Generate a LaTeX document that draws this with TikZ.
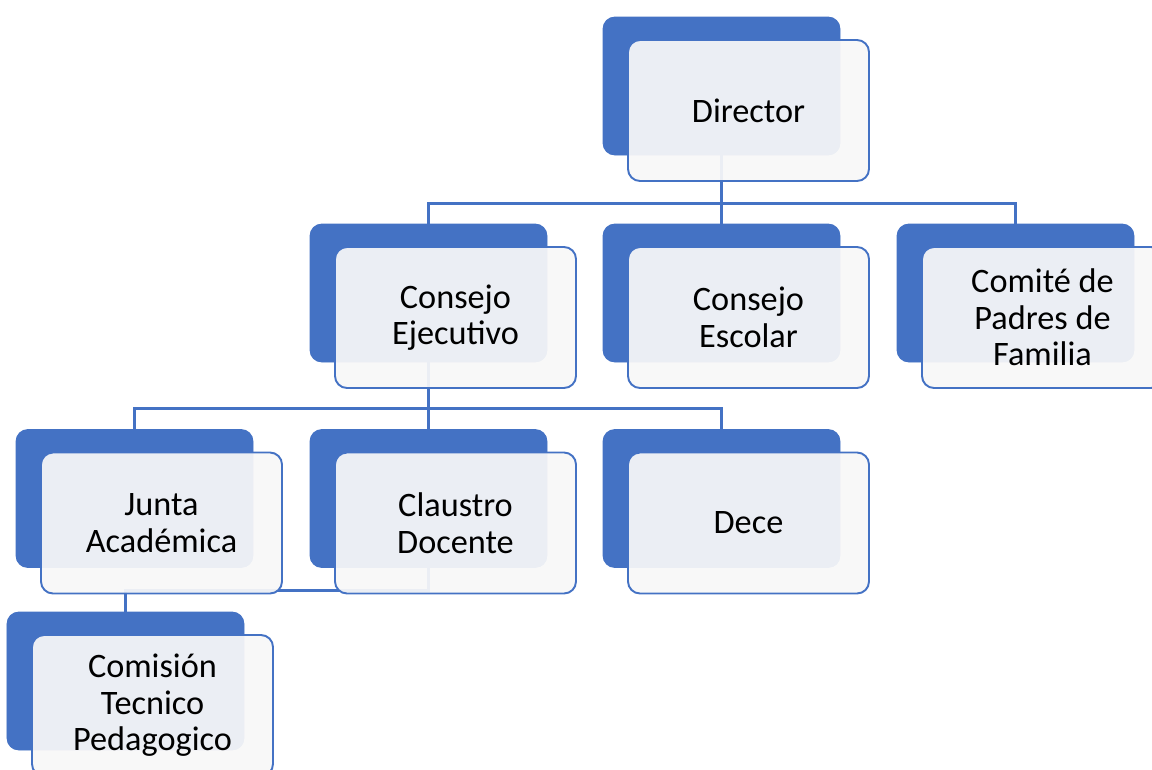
\documentclass[tikz,border=0pt]{standalone}
\usepackage{fontspec}
\setmainfont{Carlito}
\usepackage{xcolor}
\usepackage{tikz}
\usetikzlibrary{positioning,calc}
\definecolor{chartblue}{HTML}{4472C4}
\definecolor{paleface}{HTML}{F8F8F8}

\begin{document}
\begin{tikzpicture}[
    backbox/.style={draw=none, fill=chartblue, rounded corners=0.24cm, minimum width=4.74cm, minimum height=2.76cm},
    frontbox/.style={draw=chartblue, line width=1.1pt, fill=paleface, fill opacity=0.93, text opacity=1, rounded corners=0.24cm, minimum width=4.82cm, minimum height=2.82cm, align=center, font=\fontsize{19.5}{20.8}\selectfont},
    link/.style={draw=chartblue, line width=1.3pt}
]
\useasboundingbox (0,0) rectangle (23.04,-15.38);

% back plates
\node[backbox] (dirb) at (14.43,-1.72) {};
\node[backbox] (ceb) at (8.57,-5.86) {};
\node[backbox] (cesb) at (14.43,-5.86) {};
\node[backbox] (cpb) at (20.31,-5.86) {};
\node[backbox] (jab) at (2.69,-9.97) {};
\node[backbox] (cdb) at (8.57,-9.97) {};
\node[backbox] (deb) at (14.43,-9.97) {};
\node[backbox] (ctb) at (2.51,-13.62) {};

% connectors
\coordinate (bus1) at ($(dirb.south)+(0,-0.96)$);
\draw[link] (dirb.south) -- (bus1) -| (ceb.north);
\draw[link] (bus1) -| (cpb.north);
\draw[link] (bus1) -- (cesb.north);
\coordinate (bus2) at ($(ceb.south)+(0,-0.92)$);
\draw[link] (ceb.south) -- (bus2) -| (jab.north);
\draw[link] (bus2) -| (deb.north);
\draw[link] (bus2) -- (cdb.north);
\coordinate (bus3) at ($(ceb.south)+(0,-4.56)$);
\draw[link] (bus2) -- (bus3) -| (ctb.north);

% plates redrawn over the lines
\foreach \b in {dirb,ceb,cesb,cpb,jab,cdb,deb,ctb}
  \fill[chartblue, rounded corners=0.24cm] (\b.south west) rectangle (\b.north east);

% front cards
\node[frontbox] (dir) at ($(dirb)+(0.54,-0.49)$) {Director};
\node[frontbox] (ce) at ($(ceb)+(0.54,-0.49)$) {Consejo\\Ejecutivo};
\node[frontbox] (ces) at ($(cesb)+(0.54,-0.49)$) {Consejo\\Escolar};
\node[frontbox] (cp) at ($(cpb)+(0.54,-0.49)$) {Comité de\\Padres de\\Familia};
\node[frontbox] (ja) at ($(jab)+(0.54,-0.49)$) {Junta\\Académica};
\node[frontbox] (cd) at ($(cdb)+(0.54,-0.49)$) {Claustro\\Docente};
\node[frontbox] (de) at ($(deb)+(0.54,-0.49)$) {Dece};
\node[frontbox] (ct) at ($(ctb)+(0.54,-0.49)$) {Comisión\\Tecnico\\Pedagogico};
\end{tikzpicture}
\end{document}
